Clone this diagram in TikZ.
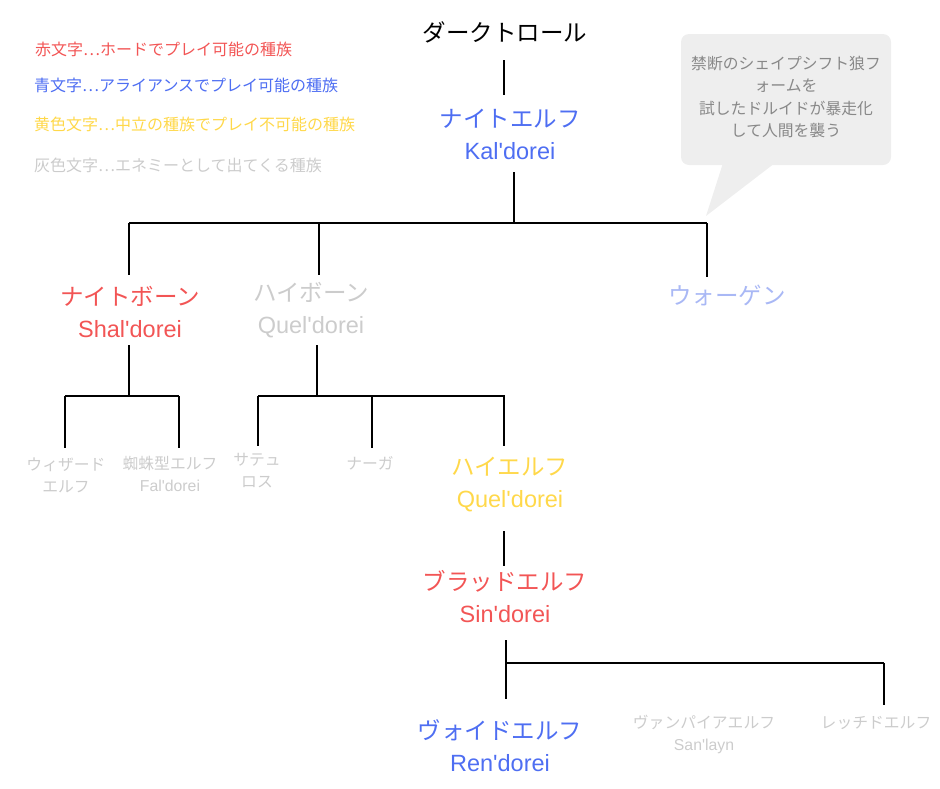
\documentclass[tikz,border=0pt]{standalone}
\usepackage{fontspec}
\setmainfont{Liberation Sans}
\newfontfamily\jp{Noto Sans CJK JP}
\newcommand{\lat}{\rmfamily}
\newcommand{\ap}{\textquotesingle}
\definecolor{cred}{HTML}{F25555}
\definecolor{cblue}{HTML}{4E6EF2}
\definecolor{cyel}{HTML}{FFD84A}
\definecolor{cgray}{HTML}{CCCCCC}
\definecolor{clb}{HTML}{A9B8F5}
\definecolor{cbub}{HTML}{EEEEEE}
\definecolor{cbt}{HTML}{888888}
\tikzset{
 big/.style={font=\jp\fontsize{23.5}{26}\selectfont, inner sep=0pt, align=center},
 sml/.style={font=\jp\fontsize{15.8}{22}\selectfont, inner sep=0pt, align=center},
 leg/.style={font=\jp\fontsize{16}{20}\selectfont, inner sep=0pt, anchor=west},
 ln/.style={line width=1.6pt, black}
}
\begin{document}
\begin{tikzpicture}[x=1pt,y=-1pt]
\useasboundingbox (0,0) rectangle (940,788);
% legend
\node[leg,text=cred] (l1) at (35,49) {赤文字…ホードでプレイ可能の種族};
\node[leg,text=cblue] (l2) at (34,85) {青文字…アライアンスでプレイ可能の種族};
\node[leg,text=cyel] (l3) at (34,124) {黄色文字…中立の種族でプレイ不可能の種族};
\node[leg,text=cgray] (l4) at (34,165) {灰色文字…エネミーとして出てくる種族};
% callout
\fill[cbub, rounded corners=8pt] (681,34) rectangle (891,165);
\fill[cbub] (723,163) -- (706,216) -- (775,163) -- cycle;
\node[sml,text=cbt,font=\jp\fontsize{15.8}{22.5}\selectfont] (bub) at (786,97) {禁断のシェイプシフト狼フ\\ォームを\\試したドルイドが暴走化\\して人間を襲う};
% nodes
\node[big] (dt) at (505,32) {ダークトロール};
\node[big,text=cblue] (ne) at (510,134) {ナイトエルフ\\[6pt]{\lat Kal\ap dorei}};
\node[big,text=cred] (nb) at (130,312) {ナイトボーン\\[6pt]{\lat Shal\ap dorei}};
\node[big,text=cgray] (hb) at (311,310) {ハイボーン\\[6pt]{\lat Quel\ap dorei}};
\node[big,text=clb] (wg) at (727,295) {ウォーゲン};
\node[sml,text=cgray] (wz) at (66,475) {ウィザード\\エルフ};
\node[sml,text=cgray] (sp) at (170,474) {蜘蛛型エルフ\\{\lat Fal\ap dorei}};
\node[sml,text=cgray] (sa) at (257,471) {サテュ\\ロス};
\node[sml,text=cgray] (na) at (370,463) {ナーガ};
\node[big,text=cyel] (he) at (510,485) {ハイエルフ\\[6pt]{\lat Quel\ap dorei}};
\node[big,text=cred] (be) at (505,597) {ブラッドエルフ\\[6pt]{\lat Sin\ap dorei}};
\node[big,text=cblue] (ve) at (500,746) {ヴォイドエルフ\\[6pt]{\lat Ren\ap dorei}};
\node[sml,text=cgray] (va) at (704,734) {ヴァンパイアエルフ\\{\lat San\ap layn}};
\node[sml,text=cgray] (re) at (876,723) {レッチドエルフ};
% lines
\draw[ln] (504,60) -- (504,95);
\draw[ln] (514,172) -- (514,223);
\draw[ln] (129,223) -- (707,223);
\draw[ln] (129,223) -- (129,275);
\draw[ln] (319,223) -- (319,275);
\draw[ln] (707,223) -- (707,277);
\draw[ln] (129,345) -- (129,396);
\draw[ln] (65,396) -- (179,396);
\draw[ln] (65,396) -- (65,448);
\draw[ln] (179,396) -- (179,448);
\draw[ln] (317,345) -- (317,396);
\draw[ln] (258,396) -- (505,396);
\draw[ln] (258,396) -- (258,446);
\draw[ln] (372,396) -- (372,448);
\draw[ln] (504,396) -- (504,446);
\draw[ln] (504,531) -- (504,566);
\draw[ln] (506,640) -- (506,699);
\draw[ln] (506,663) -- (884,663);
\draw[ln] (884,663) -- (884,705);
\end{tikzpicture}
\end{document}
